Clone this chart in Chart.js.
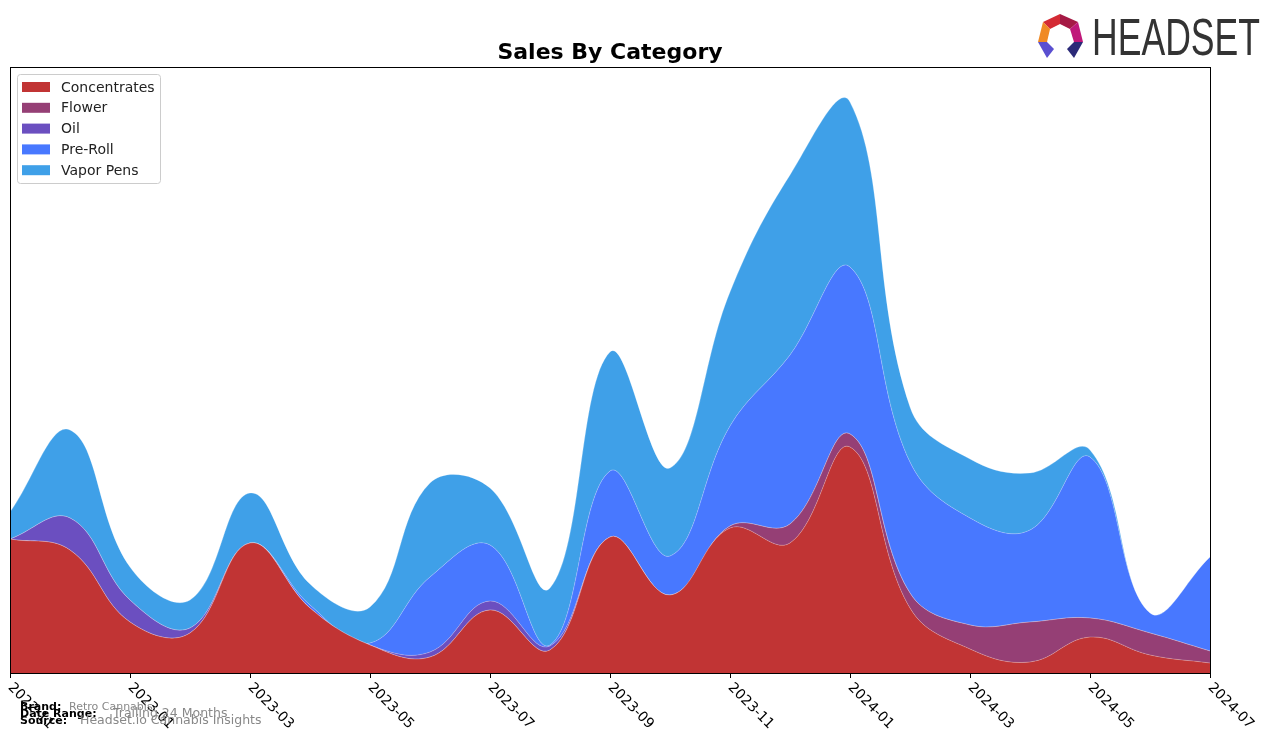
<!DOCTYPE html>
<html>
<head>
<meta charset="utf-8">
<title>Sales By Category</title>
<script src="https://cdn.jsdelivr.net/npm/chart.js@4.4.1/dist/chart.umd.min.js"></script>
<style>
    body { margin: 0; background: #ffffff; }
    canvas { display: block; }
</style>
</head>
<body>
<canvas id="salesChart" width="1276" height="743"></canvas>
<script>
// Sales By Category data (monthly)
const months = ['2022-11', '2022-12', '2023-01', '2023-02', '2023-03', '2023-04', '2023-05',
    '2023-06', '2023-07', '2023-08', '2023-09', '2023-10', '2023-11', '2023-12',
    '2024-01', '2024-02', '2024-03', '2024-04', '2024-05', '2024-06', '2024-07'];
const concentrates = [134, 123, 51, 40, 130, 65, 28, 16, 63, 23, 136, 78, 145, 130, 226, 65, 24, 11, 36, 18, 10];
const flower = [0, 0, 0, 0, 0, 0, 0, 0, 0, 0, 0, 0, 2, 19, 13, 15, 24, 40, 19, 22, 12];
const oil = [0, 32, 22, 5, 0, 0, 0, 5, 9, 4, 0, 0, 0, 0, 0, 0, 0, 0, 0, 0, 0];
const preRoll = [0, 0, 0, 0, 0, 3, 2, 75, 56, 1, 66, 39, 100, 169, 167, 131, 107, 92, 161, 20, 94];
const vaporPens = [27, 88, 33, 28, 50, 21, 36, 94, 57, 57, 119, 88, 134, 180, 165, 55, 59, 57, 7, 0, 0];
const tickLabels = months.filter((m, i) => i % 2 === 0);

const categoryNames = ['Concentrates', 'Flower', 'Oil', 'Pre-Roll', 'Vapor Pens'];
const categoryColors = ['#c13434', '#953f75', '#6b4fc0', '#4878ff', '#3fa0e8'];
const categoryValues = [concentrates, flower, oil, preRoll, vaporPens];

// Frame, ticks, title, legend, footer and logo
const decorations = {
    id: 'decorations',
    afterDraw(chart) {
        const ctx = chart.ctx;
        const area = chart.chartArea;
        const xScale = chart.scales.x;
        ctx.save();

        // plot frame
        ctx.strokeStyle = '#000000';
        ctx.lineWidth = 1;
        ctx.strokeRect(area.left + 0.5, area.top + 0.5, area.right - area.left, area.bottom - area.top);

        // x ticks every two months, rotated labels
        ctx.font = '14px "DejaVu Sans"';
        ctx.fillStyle = '#000000';
        ctx.textAlign = 'left';
        ctx.textBaseline = 'alphabetic';
        months.forEach((m, i) => {
            if (!tickLabels.includes(m)) return;
            const x = Math.round(xScale.getPixelForValue(i)) + 0.5;
            ctx.beginPath();
            ctx.moveTo(x, area.bottom);
            ctx.lineTo(x, area.bottom + 5);
            ctx.stroke();
            ctx.save();
            ctx.translate(x - 3, area.bottom + 15);
            ctx.rotate(Math.PI / 4);
            ctx.fillText(m, 0, 0);
            ctx.restore();
        });

        // title
        ctx.font = 'bold 22px "DejaVu Sans"';
        ctx.textAlign = 'center';
        ctx.textBaseline = 'middle';
        ctx.fillText('Sales By Category', (area.left + area.right) / 2, 53);

        // legend
        ctx.fillStyle = 'rgba(255,255,255,0.8)';
        ctx.strokeStyle = '#cccccc';
        ctx.beginPath();
        ctx.roundRect(17.5, 74.5, 143, 109, 3);
        ctx.fill();
        ctx.stroke();
        ctx.font = '14px "DejaVu Sans"';
        ctx.textAlign = 'left';
        chart.data.datasets.forEach((ds, i) => {
            const y = 87 + i * 20.8;
            ctx.fillStyle = ds.backgroundColor;
            ctx.fillRect(22, y - 5, 28, 10);
            ctx.fillStyle = '#222222';
            ctx.fillText(ds.label, 61, y + 1);
        });

        // footer
        const footer = [
            ['Brand:', 'Retro Cannabis', 707, 69, 11],
            ['Date Range:', 'Trailing 24 Months', 714, 113, 12.5],
            ['Source:', 'Headset.io Cannabis Insights', 721, 80, 12.5]
        ];
        footer.forEach(([label, value, y, vx, size]) => {
            ctx.font = 'bold 11px "DejaVu Sans"';
            ctx.fillStyle = '#000000';
            ctx.fillText(label, 20, y);
            ctx.font = size + 'px "DejaVu Sans"';
            ctx.fillStyle = '#888888';
            ctx.fillText(value, vx, y);
        });

        // HEADSET logo
        const pieces = [
            ['#d42a34', [[1043, 22], [1060, 14], [1060, 24], [1050, 29]]],
            ['#a51a45', [[1060, 14], [1078, 22], [1070, 29], [1060, 24]]],
            ['#c0187a', [[1078, 22], [1083, 42], [1074, 42], [1070, 29]]],
            ['#f08a24', [[1043, 22], [1050, 29], [1047, 42], [1038, 42]]],
            ['#5a4fd0', [[1038, 42], [1047, 42], [1054, 49], [1047, 58]]],
            ['#2b2a78', [[1074, 42], [1083, 42], [1074, 58], [1067, 49]]]
        ];
        pieces.forEach(([color, pts]) => {
            ctx.fillStyle = color;
            ctx.beginPath();
            pts.forEach((p, j) => j ? ctx.lineTo(p[0], p[1]) : ctx.moveTo(p[0], p[1]));
            ctx.closePath();
            ctx.fill();
        });
        ctx.font = '51px "Liberation Sans Narrow", "Liberation Sans", sans-serif';
        ctx.fillStyle = '#333333';
        ctx.textBaseline = 'alphabetic';
        const w = ctx.measureText('HEADSET').width;
        ctx.save();
        ctx.translate(1092, 55);
        ctx.scale(168 / w, 1);
        ctx.fillText('HEADSET', 0, 0);
        ctx.restore();

        ctx.restore();
    }
};

// Sales By Category Chart
const salesCtx = document.getElementById('salesChart');
if (salesCtx) {
    const salesChart = new Chart(salesCtx, {
        type: 'line',
        data: {
            labels: months,
            datasets: categoryNames.map((name, i) => ({
                label: name,
                data: categoryValues[i],
                backgroundColor: categoryColors[i],
                borderColor: 'rgba(255, 255, 255, 0.3)',
                borderWidth: 0.8,
                fill: i === 0 ? 'origin' : '-1',
                tension: 0.4,
                pointRadius: 0
            }))
        },
        options: {
            responsive: false,
            animation: false,
            devicePixelRatio: 1,
            layout: {
                padding: { left: 10, top: 67, right: 66, bottom: 70 }
            },
            plugins: {
                legend: { display: false },
                title: { display: false },
                tooltip: { enabled: false }
            },
            scales: {
                x: { display: false },
                y: { display: false, stacked: true, min: 0, max: 606 }
            }
        },
        plugins: [decorations]
    });
}
</script>
</body>
</html>
